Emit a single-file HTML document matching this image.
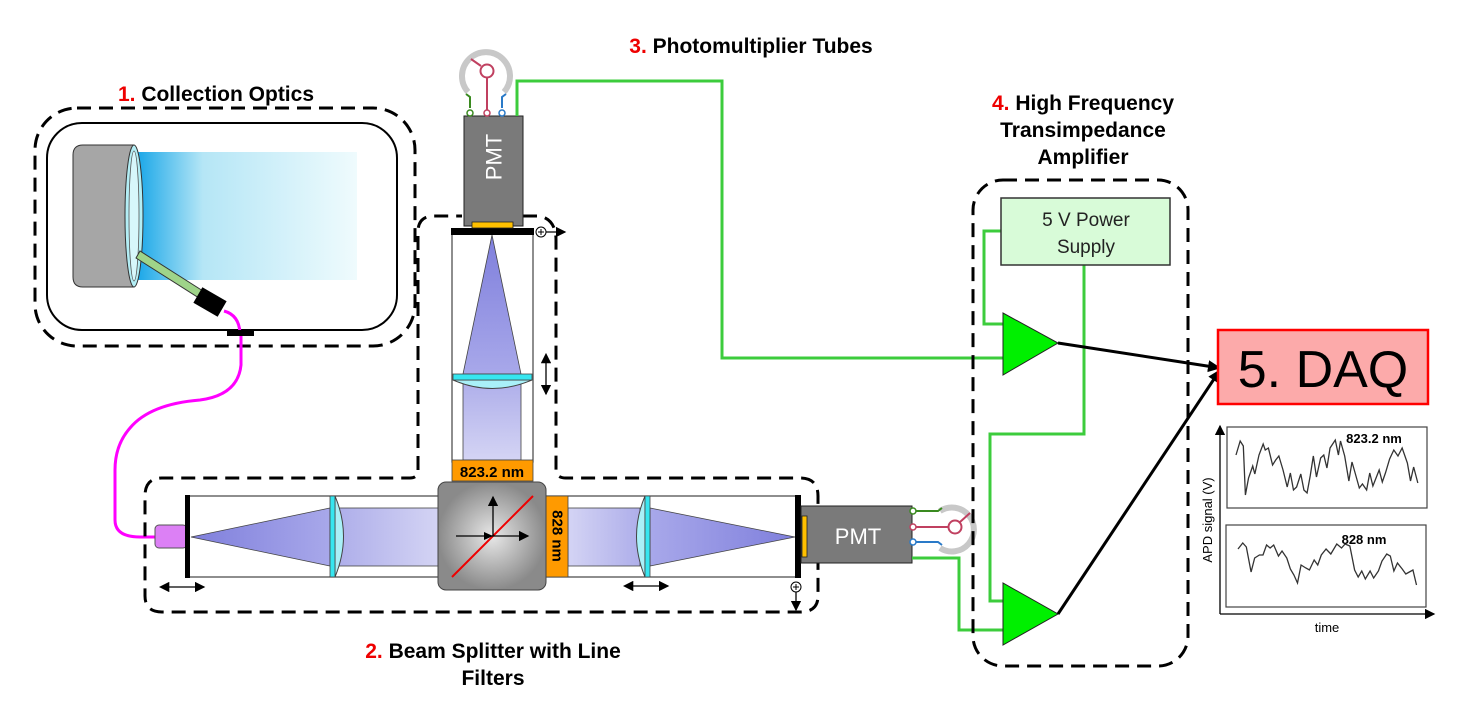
<!DOCTYPE html>
<html><head><meta charset="utf-8"><style>
body{margin:0;background:#fff;}
svg{display:block;font-family:"Liberation Sans",Arial,sans-serif;}
.t{font-weight:bold;font-size:21px;}
</style></head><body>
<svg width="1470" height="706" viewBox="0 0 1470 706" xmlns="http://www.w3.org/2000/svg">
<defs>
<linearGradient id="blue" x1="0" x2="1" y1="0" y2="0"><stop offset="0" stop-color="#1aa7e8"/><stop offset="0.3" stop-color="#b5e6f6"/><stop offset="1" stop-color="#effbfd"/></linearGradient>
<linearGradient id="coneH" x1="0" x2="1"><stop offset="0" stop-color="#7f7fdc"/><stop offset="1" stop-color="#a8a8ea"/></linearGradient>
<linearGradient id="coneHr" x1="1" x2="0"><stop offset="0" stop-color="#7f7fdc"/><stop offset="1" stop-color="#a8a8ea"/></linearGradient>
<linearGradient id="colL" x1="0" x2="1"><stop offset="0" stop-color="#aeaeea"/><stop offset="1" stop-color="#d4d4f4"/></linearGradient>
<linearGradient id="colR" x1="1" x2="0"><stop offset="0" stop-color="#aeaeea"/><stop offset="1" stop-color="#d4d4f4"/></linearGradient>
<linearGradient id="coneV" x1="0" x2="0" y1="0" y2="1"><stop offset="0" stop-color="#7f7fdc"/><stop offset="1" stop-color="#a8a8ea"/></linearGradient>
<linearGradient id="colV" x1="0" x2="0" y1="0" y2="1"><stop offset="0" stop-color="#aeaeea"/><stop offset="1" stop-color="#d4d4f4"/></linearGradient>
<radialGradient id="cube"><stop offset="0" stop-color="#e8e8e8"/><stop offset="1" stop-color="#8a8a8a"/></radialGradient>
<marker id="ah" markerWidth="8" markerHeight="8" refX="7" refY="4" orient="auto"><path d="M0,0 L8,4 L0,8 z" fill="#000"/></marker>
<marker id="ahs" markerWidth="8" markerHeight="8" refX="1" refY="4" orient="auto-start-reverse"><path d="M0,0 L8,4 L0,8 z" fill="#000"/></marker>
<marker id="ahb" markerUnits="userSpaceOnUse" markerWidth="14" markerHeight="14" refX="12" refY="7" orient="auto"><path d="M0,1 L13,7 L0,13 z" fill="#000"/></marker>
</defs>

<!-- Titles -->
<text x="216" y="101" text-anchor="middle" class="t"><tspan fill="#e00">1.</tspan> Collection Optics</text>
<text x="751" y="53" text-anchor="middle" class="t"><tspan fill="#e00">3.</tspan> Photomultiplier Tubes</text>
<text x="493" y="658" text-anchor="middle" class="t"><tspan fill="#e00">2.</tspan> Beam Splitter with Line</text>
<text x="493" y="685" text-anchor="middle" class="t">Filters</text>
<text x="1083" y="110" text-anchor="middle" class="t"><tspan fill="#e00">4.</tspan> High Frequency</text>
<text x="1083" y="137" text-anchor="middle" class="t">Transimpedance</text>
<text x="1083" y="164" text-anchor="middle" class="t">Amplifier</text>

<!-- Collection optics -->
<rect x="35" y="108" width="380" height="238" rx="42" fill="none" stroke="#000" stroke-width="3" stroke-dasharray="14,8"/>
<rect x="47" y="123" width="350" height="207" rx="35" fill="#fff" stroke="#000" stroke-width="2"/>
<rect x="137" y="152" width="220" height="128" fill="url(#blue)"/>
<path d="M83,145 L134,145 L134,287 L83,287 Q73,287 73,277 L73,155 Q73,145 83,145z" fill="#a6a6a6" stroke="#333"/>
<ellipse cx="134" cy="216" rx="9" ry="71" fill="#b3eef5" stroke="#333"/>
<ellipse cx="134" cy="216" rx="5" ry="65" fill="#d7f7fb" stroke="#555" stroke-width="0.8"/>
<polygon points="136,258 140,251 203,291 199,298" fill="#9fd489" stroke="#333"/>
<rect x="196" y="293" width="28" height="18" fill="#000" transform="rotate(30 210 302)"/>
<path d="M224,311 Q239,315 240,333" fill="none" stroke="#f0f" stroke-width="3"/>
<rect x="227" y="330" width="27" height="6" fill="#000"/>
<path d="M241,336 L241,365 Q238,395 200,400 Q150,404 130,428 Q115,445 115,470 L115,520 Q115,537 140,537 L156,537" fill="none" stroke="#f0f" stroke-width="3"/>

<!-- Beam splitter dashed outline -->
<path d="M418,470 L418,232 Q418,216 434,216 L462,216 M523,216 L540,216 Q556,220 556,240 L556,470 Q556,478 566,478 L800,478 Q818,478 818,496 L818,596 Q818,612 800,612 L162,612 Q145,612 145,596 L145,496 Q145,478 162,478 L410,478 Q418,478 418,470" fill="none" stroke="#000" stroke-width="3" stroke-dasharray="14,8"/>

<!-- bottom tube -->
<rect x="187" y="496" width="610" height="81" fill="#fff" stroke="#444" stroke-width="1.2"/>
<rect x="155" y="525" width="32" height="23" rx="4" fill="#dc80f5" stroke="#555"/>
<polygon points="191,537 330,508 330,566" fill="url(#coneH)" stroke="#444" stroke-width="0.8"/>
<rect x="337" y="508" width="102" height="58" fill="url(#colL)" stroke="#444" stroke-width="0.8"/>
<path d="M335,496 Q352,536 335,577z" fill="#a9f0f8" stroke="#444"/>
<rect x="330" y="496" width="5" height="81" fill="#36e6f0" stroke="#444" stroke-width="0.8"/>
<rect x="568" y="508" width="72" height="58" fill="url(#colR)" stroke="#444" stroke-width="0.8"/>
<polygon points="795,537 650,508 650,566" fill="url(#coneHr)" stroke="#444" stroke-width="0.8"/>
<path d="M645,496 Q628,536 645,577z" fill="#a9f0f8" stroke="#444"/>
<rect x="645" y="496" width="5" height="81" fill="#36e6f0" stroke="#444" stroke-width="0.8"/>
<rect x="185" y="495" width="5" height="83" fill="#000"/>
<rect x="795" y="495" width="6" height="83" fill="#000"/>
<rect x="546" y="496" width="22" height="81" fill="#ff9a00" stroke="#444" stroke-width="0.8"/>
<text x="557" y="536" transform="rotate(90 557 536)" text-anchor="middle" dominant-baseline="central" font-weight="bold" font-size="15">828 nm</text>
<rect x="438" y="482" width="108" height="108" rx="8" fill="url(#cube)" stroke="#444"/>
<line x1="452" y1="577" x2="533" y2="496" stroke="#e00" stroke-width="2"/>
<line x1="456" y1="536" x2="528" y2="536" stroke="#000" stroke-width="1.3" marker-end="url(#ah)"/>
<line x1="493" y1="536" x2="493" y2="497" stroke="#000" stroke-width="1.3" marker-end="url(#ah)"/>
<polygon points="484,532 493,536 484,540" fill="#000"/>
<line x1="168" y1="587" x2="204" y2="587" stroke="#000" stroke-width="1.3" marker-end="url(#ah)" marker-start="url(#ahs)"/>
<line x1="632" y1="586" x2="668" y2="586" stroke="#000" stroke-width="1.3" marker-end="url(#ah)" marker-start="url(#ahs)"/>
<circle cx="796" cy="587" r="5" fill="#fff" stroke="#000"/><path d="M793,587h6M796,584v6" stroke="#000"/>
<line x1="796" y1="592" x2="796" y2="610" stroke="#000" stroke-width="1.3" marker-end="url(#ah)"/>

<!-- top tube -->
<rect x="452" y="232" width="81" height="230" fill="#fff" stroke="#444" stroke-width="1.2"/>
<polygon points="492,235 463,374 521,374" fill="url(#coneV)" stroke="#444" stroke-width="0.8"/>
<rect x="463" y="380" width="58" height="80" fill="url(#colV)" stroke="#444" stroke-width="0.8"/>
<path d="M453,380 Q492,397 532,380z" fill="#a9f0f8" stroke="#444"/>
<rect x="453" y="374" width="79" height="6" fill="#36e6f0" stroke="#444" stroke-width="0.8"/>
<rect x="452" y="460" width="81" height="21" fill="#ff9a00" stroke="#444" stroke-width="0.8"/>
<text x="492" y="477" text-anchor="middle" font-weight="bold" font-size="15">823.2 nm</text>
<rect x="451" y="228" width="83" height="7" fill="#000"/>
<line x1="546" y1="362" x2="546" y2="394" stroke="#000" stroke-width="1.3" marker-end="url(#ah)" marker-start="url(#ahs)"/>
<circle cx="541" cy="232" r="5" fill="#fff" stroke="#000"/><path d="M538,232h6M541,229v6" stroke="#000"/>
<line x1="546" y1="232" x2="565" y2="232" stroke="#000" stroke-width="1.3" marker-end="url(#ah)"/>

<!-- top PMT -->
<rect x="464" y="116" width="59" height="110" fill="#7a7a7a" stroke="#222"/>
<rect x="472" y="222" width="41" height="6" fill="#ffc000" stroke="#222" stroke-width="0.8"/>
<text x="494" y="157" transform="rotate(-90 494 157)" text-anchor="middle" dominant-baseline="central" fill="#fff" font-size="22">PMT</text>
<path d="M468,92 A24,24 0 1 1 504,92" fill="none" stroke="#c8c8c8" stroke-width="6"/>
<path d="M470,108 L470,97 L466,94" fill="none" stroke="#3a8a20" stroke-width="2"/>
<path d="M502,108 L502,97 L506,94" fill="none" stroke="#2a7ac8" stroke-width="2"/>
<line x1="487" y1="78" x2="487" y2="113" stroke="#c04060" stroke-width="2"/>
<line x1="481" y1="66" x2="471" y2="59" stroke="#c04060" stroke-width="2"/>
<circle cx="487" cy="71" r="6.5" fill="#fff" stroke="#c04060" stroke-width="2"/>
<circle cx="470" cy="113" r="3" fill="#fff" stroke="#3a8a20" stroke-width="1.5"/>
<circle cx="487" cy="113" r="3" fill="#fff" stroke="#c04060" stroke-width="1.5"/>
<circle cx="502" cy="113" r="3" fill="#fff" stroke="#2a7ac8" stroke-width="1.5"/>
<polyline points="517,116 517,81 722,81 722,358 1003,358" fill="none" stroke="#3ccc3c" stroke-width="3"/>

<!-- right PMT -->
<rect x="801" y="506" width="111" height="57" fill="#7a7a7a" stroke="#222"/>
<rect x="802" y="516" width="5" height="41" fill="#ffc000" stroke="#222" stroke-width="0.8"/>
<text x="858" y="544" text-anchor="middle" fill="#fff" font-size="22">PMT</text>
<path d="M940,511 A22,22 0 1 1 940,548" fill="none" stroke="#c8c8c8" stroke-width="6"/>
<path d="M913,511 L938,511 L942,508" fill="none" stroke="#3a8a20" stroke-width="2"/>
<path d="M913,542 L938,542 L942,545" fill="none" stroke="#2a7ac8" stroke-width="2"/>
<line x1="913" y1="527" x2="949" y2="527" stroke="#c04060" stroke-width="2"/>
<line x1="960" y1="522" x2="970" y2="513" stroke="#c04060" stroke-width="2"/>
<circle cx="955" cy="527" r="6.5" fill="#fff" stroke="#c04060" stroke-width="2"/>
<circle cx="913" cy="511" r="3" fill="#fff" stroke="#3a8a20" stroke-width="1.5"/>
<circle cx="913" cy="527" r="3" fill="#fff" stroke="#c04060" stroke-width="1.5"/>
<circle cx="913" cy="542" r="3" fill="#fff" stroke="#2a7ac8" stroke-width="1.5"/>
<polyline points="912,558 959,558 959,630 1003,630" fill="none" stroke="#3ccc3c" stroke-width="3"/>

<!-- Amplifier -->
<rect x="973" y="180" width="215" height="486" rx="30" fill="none" stroke="#000" stroke-width="3" stroke-dasharray="14,8"/>
<polyline points="1001,231 984,231 984,324 1003,324" fill="none" stroke="#3ccc3c" stroke-width="3"/>
<polyline points="1084,265 1084,434 990,434 990,601 1003,601" fill="none" stroke="#3ccc3c" stroke-width="3"/>
<rect x="1001" y="198" width="169" height="67" fill="#d8fbd8" stroke="#333" stroke-width="1.5"/>
<text x="1086" y="226" text-anchor="middle" font-size="19" fill="#222">5 V Power</text>
<text x="1086" y="253" text-anchor="middle" font-size="19" fill="#222">Supply</text>
<polygon points="1003,313 1003,375 1058,343" fill="#00f000" stroke="#222"/>
<polygon points="1003,583 1003,645 1058,614" fill="#00f000" stroke="#222"/>
<line x1="1058" y1="343" x2="1220" y2="368" stroke="#000" stroke-width="3" marker-end="url(#ahb)"/>
<line x1="1058" y1="614" x2="1220" y2="370" stroke="#000" stroke-width="3" marker-end="url(#ahb)"/>

<!-- DAQ -->
<rect x="1218" y="330" width="210" height="74" fill="#fcaaaa" stroke="#f00" stroke-width="2.5"/>
<text x="1323" y="387" text-anchor="middle" font-size="52">5. DAQ</text>
<line x1="1220" y1="614" x2="1220" y2="426" stroke="#000" stroke-width="1.3" marker-end="url(#ah)"/>
<line x1="1220" y1="614" x2="1434" y2="614" stroke="#000" stroke-width="1.3" marker-end="url(#ah)"/>
<rect x="1227" y="427" width="200" height="81" fill="#fff" stroke="#444" stroke-width="1.2"/>
<rect x="1226" y="525" width="200" height="82" fill="#fff" stroke="#444" stroke-width="1.2"/>
<g transform="translate(1236,0) scale(1.045,1) translate(-1233,0)">
<polyline fill="none" stroke="#333" stroke-width="1.3" vector-effect="non-scaling-stroke" points="1233,455 1237,441 1240,446 1242,495 1245,478 1249,466 1251,474 1255,455 1259,444 1261,450 1264,448 1268,465 1271,460 1274,456 1278,470 1282,487 1285,473 1288,490 1291,487 1295,474 1298,490 1301,493 1304,476 1307,456 1310,477 1314,458 1317,455 1320,468 1323,448 1328,440 1331,455 1333,441 1337,456 1341,481 1344,462 1347,473 1351,488 1354,484 1358,490 1361,473 1364,486 1367,478 1370,470 1373,482 1376,473 1380,459 1384,450 1388,456 1392,448 1397,463 1400,481 1403,467 1407,483"/>
</g>
<g transform="translate(1238,0) scale(1.19,1) translate(-1233,0)">
<polyline fill="none" stroke="#333" stroke-width="1.3" vector-effect="non-scaling-stroke" points="1233,549 1237,543 1240,547 1244,572 1247,558 1251,555 1254,555 1257,545 1260,548 1263,545 1267,556 1270,551 1274,558 1277,569 1280,575 1283,583 1286,565 1290,568 1293,570 1297,560 1300,565 1303,555 1307,549 1311,554 1316,544 1320,548 1323,544 1327,546 1331,570 1334,577 1337,571 1340,579 1344,571 1347,578 1351,571 1354,561 1358,554 1361,556 1364,571 1367,563 1371,569 1374,574 1377,572 1380,570 1383,585"/>
</g>
<text x="1374" y="443" text-anchor="middle" font-weight="bold" font-size="13">823.2 nm</text>
<text x="1364" y="544" text-anchor="middle" font-weight="bold" font-size="13">828 nm</text>
<text x="1327" y="632" text-anchor="middle" font-size="13">time</text>
<text x="1212" y="520" transform="rotate(-90 1212 520)" text-anchor="middle" font-size="13">APD signal (V)</text>
</svg>
</body></html>
